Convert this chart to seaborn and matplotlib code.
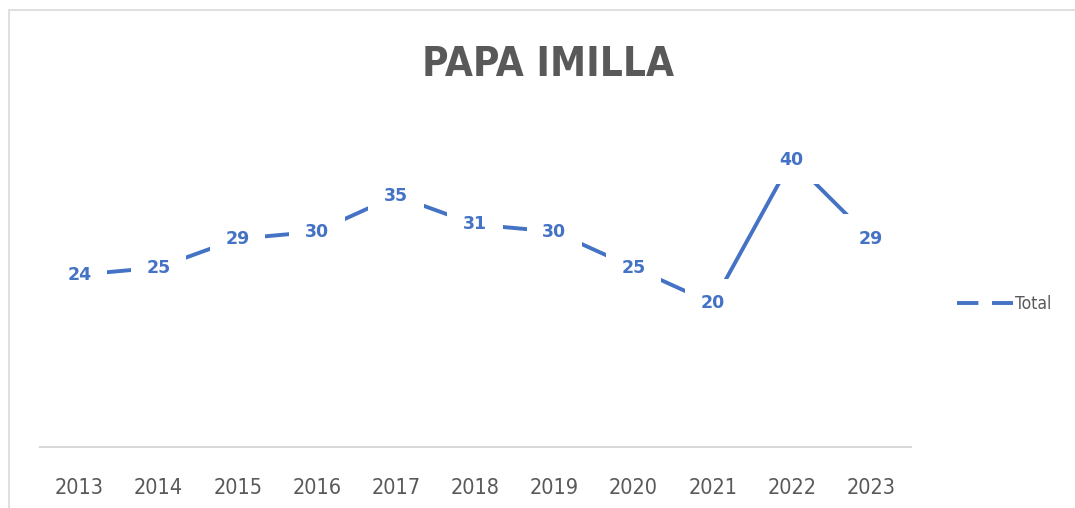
import matplotlib.pyplot as plt
import pandas as pd
import seaborn as sns
from matplotlib.lines import Line2D
from matplotlib.patches import Rectangle

years = [2013, 2014, 2015, 2016, 2017, 2018, 2019, 2020, 2021, 2022, 2023]
total = [24, 25, 29, 30, 35, 31, 30, 25, 20, 40, 29]

BLUE = "#4472C4"
GREY = "#595959"

sns.set_theme(style="white")
plt.rcParams["font.family"] = ["DejaVu Sans"]
plt.rcParams["font.stretch"] = "condensed"

df = pd.DataFrame({"anio": years, "Total": total})

fig = plt.figure(figsize=(10.75, 5.08), dpi=100)
ax = fig.add_axes([0.037, 0.12, 0.81, 0.636])

sns.lineplot(data=df, x="anio", y="Total", color=BLUE, linewidth=2.8, ax=ax)

for x, y in zip(years, total):
    ax.text(x, y, str(y), ha="center", va="center", color=BLUE,
            fontsize=12.5, fontweight="bold", fontstretch="normal",
            bbox=dict(boxstyle="square,pad=0.9", facecolor="white", edgecolor="none"))

ax.set_xlim(2012.5, 2023.5)
ax.set_ylim(0, 45)
ax.set_xticks(years)
ax.set_xticklabels([str(y) for y in years], color=GREY, fontsize=15.5)
ax.tick_params(axis="x", length=0, pad=22)
ax.set_yticks([])
ax.set_xlabel("")
ax.set_ylabel("")
for side in ["top", "left", "right"]:
    ax.spines[side].set_visible(False)
ax.spines["bottom"].set_color("#d9d9d9")
ax.spines["bottom"].set_linewidth(1.5)

fig.text(0.51, 0.872, "PAPA IMILLA", ha="center", va="center",
         fontsize=29, fontweight="bold", color=GREY)

# marco del area del grafico
fig.patches.append(Rectangle((0.008, -0.1), 1.1, 1.08, transform=fig.transFigure,
                             fill=False, edgecolor="#d9d9d9", linewidth=1.2))

handle = Line2D([], [], color=BLUE, linewidth=2.8, dashes=(5.5, 3.5))
fig.legend([handle], ["Total"], loc="center left", bbox_to_anchor=(0.876, 0.402),
           frameon=False, fontsize=12.5, labelcolor=GREY, handlelength=3.2,
           handletextpad=0.1)

plt.savefig("out.png", dpi=100)
